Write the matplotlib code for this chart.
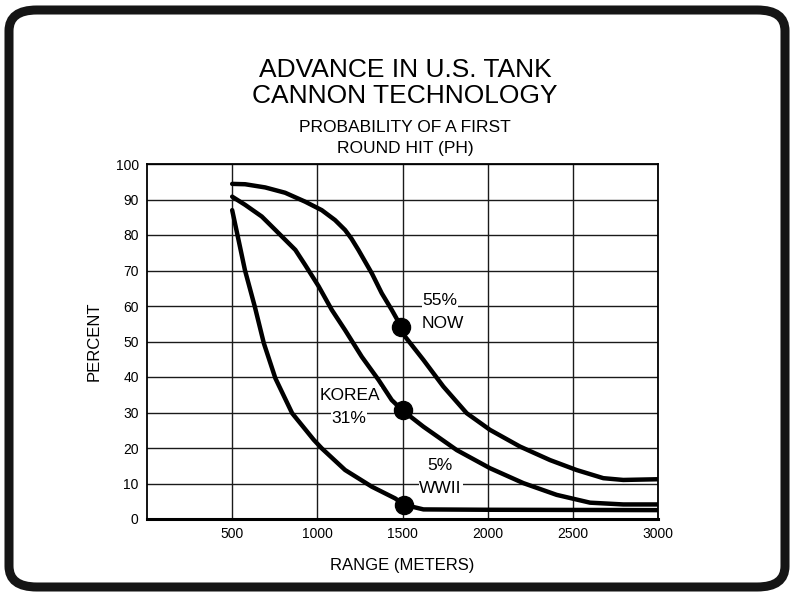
import matplotlib
matplotlib.use("Agg")
import matplotlib.pyplot as plt
from matplotlib.patches import FancyBboxPatch

plt.rcParams['font.family'] = ['Liberation Sans', 'DejaVu Sans']

# Data
now_range = [500, 576, 694, 811, 928, 1026, 1104, 1163, 1200, 1241, 1320, 1378, 1437, 1492,
             1515, 1623, 1740, 1877, 2014, 2190, 2366, 2522, 2679, 2796, 3000]
now_pct = [94.4, 94.3, 93.4, 91.9, 89.4, 87.0, 84.2, 81.4, 79.0, 75.8, 69.2, 63.6, 58.9, 54.2,
           51.4, 44.8, 37.3, 29.8, 25.1, 20.4, 16.6, 13.8, 11.5, 11.0, 11.2]

korea_range = [500, 576, 674, 754, 871, 928, 1007, 1085, 1163, 1261, 1359, 1437, 1500,
               1623, 1819, 2014, 2210, 2405, 2601, 2796, 3000]
korea_pct = [90.8, 88.5, 85.2, 81.4, 75.8, 71.6, 65.6, 58.9, 53.2, 45.7, 39.2, 33.5, 30.6,
             26.0, 19.4, 14.3, 10.1, 6.8, 4.6, 4.1, 4.1]

wwii_range = [500, 529, 575, 633, 686, 754, 852, 979, 1026, 1163, 1320, 1457, 1510,
              1623, 2000, 3000]
wwii_pct = [87.0, 80.5, 70.1, 59.8, 49.5, 39.6, 29.8, 22.3, 19.9, 13.8, 9.1, 5.8, 4.0,
            2.7, 2.6, 2.5]

marker_range = [1492, 1500, 1510]
marker_pct = [54.2, 30.6, 4.0]

x_ticks = [500, 1000, 1500, 2000, 2500, 3000]
y_ticks = [0, 10, 20, 30, 40, 50, 60, 70, 80, 90, 100]

labels = [("55%", 1720, 61.6), ("NOW", 1736, 55.2), ("KOREA", 1192, 34.9),
          ("31%", 1186, 28.4), ("5%", 1718, 15.2), ("WWII", 1724, 8.6)]

W, H = 794, 596
fig = plt.figure(figsize=(W / 100, H / 100), dpi=100)
fig.patch.set_facecolor('white')

# rounded frame
frame = FancyBboxPatch((9 / W, 9 / H), (W - 18) / W, (H - 19) / H,
                       boxstyle="round,pad=0,rounding_size=0.035",
                       transform=fig.transFigure, facecolor='none',
                       edgecolor='#151515', linewidth=6.5, zorder=0)
fig.patches.append(frame)

ax = fig.add_axes([147 / W, 1 - 519 / H, (658 - 147) / W, (519 - 164) / H])
ax.set_zorder(2)
ax.set_facecolor('white')
ax.set_xlim(0, 3000)
ax.set_ylim(0, 100)
ax.set_xticks(x_ticks)
ax.set_yticks(y_ticks)
ax.tick_params(length=0, labelsize=10, pad=6)
ax.grid(True, color='#1a1a1a', linewidth=1.0)
for s in ax.spines.values():
    s.set_linewidth(1.3)
ax.spines['bottom'].set_linewidth(2.2)

for xs, ys in [(now_range, now_pct), (korea_range, korea_pct), (wwii_range, wwii_pct)]:
    ax.plot(xs, ys, color='black', linewidth=3.2, solid_capstyle='round',
            solid_joinstyle='round', zorder=3)
ax.plot(marker_range, marker_pct, 'o', color='black', markersize=13, zorder=4)

for txt, x, y in labels:
    ax.text(x, y, txt, ha='center', va='center', fontsize=12.5, zorder=5,
            bbox=dict(facecolor='white', edgecolor='none', pad=0.5))

ax.set_ylabel("PERCENT", fontsize=12, labelpad=10)
ax.set_xlabel("RANGE (METERS)", fontsize=12, labelpad=12)

fig.text(405 / W, 1 - 70 / H, "ADVANCE IN U.S. TANK", ha='center', va='center', fontsize=19)
fig.text(405 / W, 1 - 96 / H, "CANNON TECHNOLOGY", ha='center', va='center', fontsize=19)
fig.text(405 / W, 1 - 128 / H, "PROBABILITY OF A FIRST", ha='center', va='center', fontsize=12.5)
fig.text(405 / W, 1 - 149 / H, "ROUND HIT (PH)", ha='center', va='center', fontsize=12.5)

fig.savefig("out.png", dpi=100, facecolor='white')
